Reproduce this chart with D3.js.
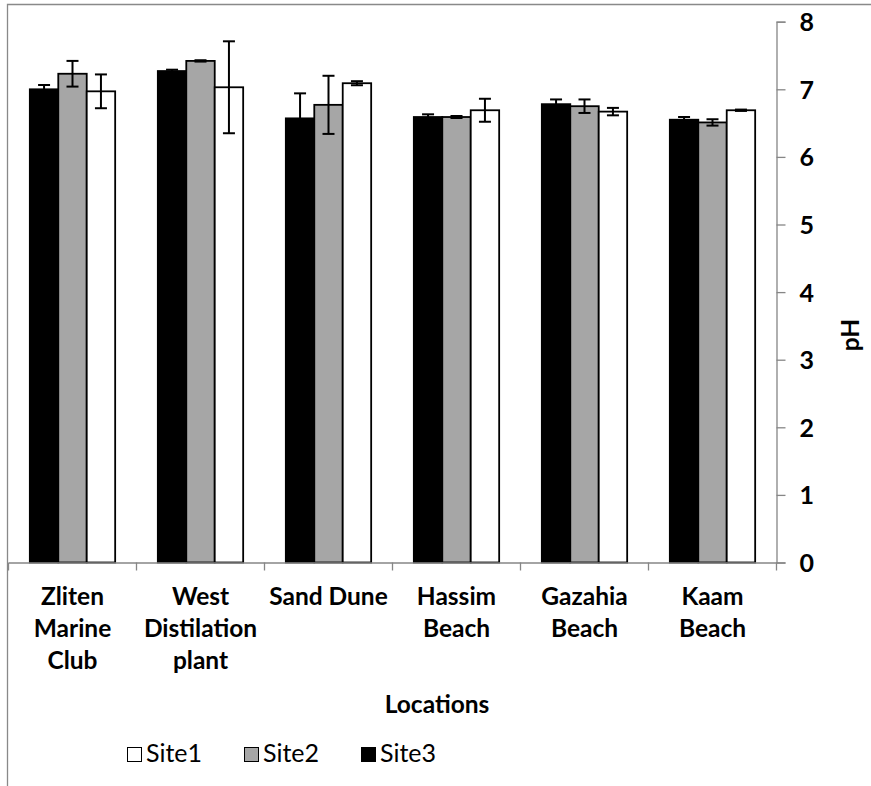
<!DOCTYPE html>
<html>
<head>
<meta charset="utf-8">
<script src="https://cdn.jsdelivr.net/npm/d3@7"></script>
<style>
  html, body { margin: 0; padding: 0; background: #fff; }
  svg { display: block; }
  text { font-family: 'Lato', 'Liberation Sans', sans-serif; fill: #000; }
</style>
</head>
<body>
<svg id="chart" width="871" height="786"></svg>
<script>
// ---- data ----
const categories = ["Zliten\nMarine\nClub", "West\nDistilation\nplant", "Sand Dune", "Hassim\nBeach", "Gazahia\nBeach", "Kaam\nBeach"];
const seriesNames = ["Site3", "Site2", "Site1"]; // left-to-right order within a group
const legendNames = ["Site1", "Site2", "Site3"];
const site1 = [6.97, 7.03, 7.09, 6.69, 6.67, 6.69];
const site1Err = [0.25, 0.68, 0.03, 0.17, 0.055, 0.01];
const site2 = [7.23, 7.42, 6.77, 6.59, 6.75, 6.51];
const site2Err = [0.19, 0.01, 0.43, 0.015, 0.10, 0.047];
const site3 = [7.00, 7.27, 6.57, 6.59, 6.78, 6.55];
const site3Err = [0.064, 0.02, 0.37, 0.04, 0.07, 0.04];
const yTicks = [0, 1, 2, 3, 4, 5, 6, 7, 8];
const xTitle = "Locations";
const yTitle = "pH";

const colors = { Site1: "#ffffff", Site2: "#a6a6a6", Site3: "#000000" };
const values = { Site1: site1, Site2: site2, Site3: site3 };
const errors = { Site1: site1Err, Site2: site2Err, Site3: site3Err };

const svg = d3.select("#chart");
const left = 8.5, right = 776.5, y0 = 562.5, yTop = 21.7;
const fs = 24.5;

// chart border (top & left visible)
svg.append("path").attr("d", `M7.5,786V4.5H871`).attr("fill", "none")
  .attr("stroke", "#898989").attr("stroke-width", 1.3);

const x = d3.scaleBand().domain(categories).range([left, right]).padding(0);
const xs = d3.scaleBand().domain(seriesNames).range([0, x.bandwidth()])
  .paddingInner(0).paddingOuter(0.75);
const y = d3.scaleLinear().domain([0, 8]).range([y0, yTop]);

const rows = [];
categories.forEach((c, i) => {
  seriesNames.forEach(s => rows.push({ c, s, v: values[s][i], e: errors[s][i] }));
});

// bars
svg.append("g").selectAll("rect").data(rows).join("rect")
  .attr("x", d => x(d.c) + xs(d.s))
  .attr("y", d => y(d.v))
  .attr("width", xs.bandwidth())
  .attr("height", d => y(0) - y(d.v))
  .attr("fill", d => colors[d.s])
  .attr("stroke", "#000").attr("stroke-width", 1.8);

// error bars
const eg = svg.append("g").attr("stroke", "#000").attr("stroke-width", 2).attr("fill", "none");
rows.forEach(d => {
  const cx = x(d.c) + xs(d.s) + xs.bandwidth() / 2;
  const top = y(d.v + d.e), bot = y(d.v - d.e);
  eg.append("line").attr("x1", cx).attr("x2", cx).attr("y1", top).attr("y2", bot);
  eg.append("line").attr("x1", cx - 6).attr("x2", cx + 6).attr("y1", top).attr("y2", top);
  eg.append("line").attr("x1", cx - 6).attr("x2", cx + 6).attr("y1", bot).attr("y2", bot);
});

// x axis
const xAxis = svg.append("g").attr("transform", `translate(0,${y0})`)
  .call(d3.axisBottom(x).tickSize(0).tickFormat(""));
xAxis.select(".domain").attr("stroke", "#868686").attr("stroke-width", 1.3);
const bounds = categories.map(c => x(c)).concat([x(categories[categories.length - 1]) + x.bandwidth()]);
svg.append("g").selectAll("line").data(bounds).join("line")
  .attr("x1", d => d).attr("x2", d => d).attr("y1", y0).attr("y2", y0 + 8)
  .attr("stroke", "#868686").attr("stroke-width", 1.3);

// x labels
const lab = svg.append("g").selectAll("text").data(categories).join("text")
  .attr("text-anchor", "middle")
  .attr("font-size", fs).attr("font-weight", "bold");
lab.each(function (c) {
  const t = d3.select(this);
  c.split("\n").forEach((ln, i) => {
    t.append("tspan").attr("x", x(c) + x.bandwidth() / 2).attr("y", 605 + i * 32).text(ln);
  });
});

// y axis (right)
const yAxis = svg.append("g").attr("transform", `translate(${right},0)`)
  .call(d3.axisRight(y).tickValues(yTicks).tickSize(9).tickPadding(14).tickFormat(d3.format("d")));
yAxis.select(".domain").attr("stroke", "#868686").attr("stroke-width", 1.3);
yAxis.selectAll(".tick line").attr("stroke", "#868686").attr("stroke-width", 1.3);
yAxis.selectAll(".tick text").attr("font-size", 25).attr("font-weight", "bold")
  .attr("font-family", "'Lato', sans-serif").attr("fill", "#000").attr("dy", "0.36em");

// axis titles
svg.append("text").attr("x", 437).attr("y", 713).attr("text-anchor", "middle")
  .attr("font-size", fs).attr("font-weight", "bold").text(xTitle);
svg.append("text").attr("transform", "translate(859,335) rotate(-90)")
  .attr("text-anchor", "middle").attr("font-size", fs).attr("font-weight", "bold").text(yTitle);

// legend
const lg = svg.append("g").selectAll("g").data(legendNames).join("g")
  .attr("transform", (d, i) => `translate(${127 + i * 117},747)`);
lg.append("rect").attr("x", 0.5).attr("y", 0.5).attr("width", 14).attr("height", 14)
  .attr("fill", d => colors[d]).attr("stroke", "#000").attr("stroke-width", 1);
lg.append("text").attr("x", 19).attr("y", 15).attr("font-size", 25).text(d => d);
</script>
</body>
</html>
